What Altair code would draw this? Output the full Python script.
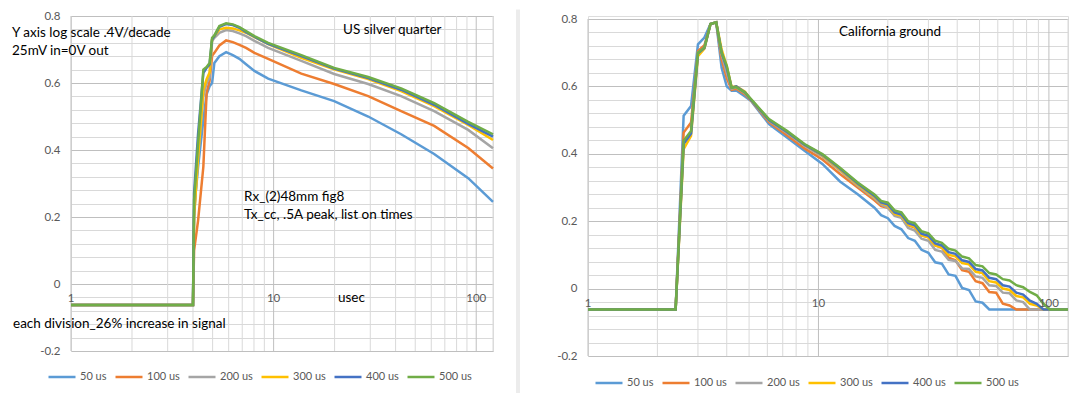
import altair as alt
import pandas as pd

FONT = "Lato"
series_names = ["50 us", "100 us", "200 us", "300 us", "400 us", "500 us"]
series_colors = ["#5B9BD5", "#ED7D31", "#A5A5A5", "#FFC000", "#4472C4", "#70AD47"]

# ---------------- left panel: US silver quarter ----------------
left_t = [1, 4.0, 4.05, 4.24, 4.5, 4.67, 4.83, 4.97, 5.1, 5.4, 5.83, 6.29, 6.78, 7.31,
          8.04, 9.4, 13.7, 19.9, 29.3, 42.6, 62, 91.3, 121]
left_50 = [-0.063, -0.063, 0.22, 0.35, 0.49, 0.566, 0.59, 0.60, 0.66, 0.68, 0.692, 0.683,
           0.672, 0.656, 0.636, 0.613, 0.578, 0.546, 0.50, 0.447, 0.388, 0.316, 0.245]
left_100 = [-0.063, -0.063, 0.10, 0.19, 0.35, 0.571, 0.606, 0.681, 0.69, 0.712, 0.727, 0.722,
            0.714, 0.705, 0.69, 0.672, 0.628, 0.597, 0.561, 0.516, 0.472, 0.406, 0.345]
left_200 = [-0.063, -0.063, 0.20, 0.38, 0.56, 0.60, 0.616, 0.725, 0.735, 0.75, 0.758, 0.755,
            0.748, 0.74, 0.726, 0.705, 0.666, 0.627, 0.597, 0.561, 0.516, 0.46, 0.405]
left_300 = [-0.063, -0.063, 0.20, 0.38, 0.58, 0.611, 0.631, 0.73, 0.74, 0.76, 0.765, 0.763,
            0.757, 0.75, 0.737, 0.716, 0.675, 0.641, 0.612, 0.576, 0.531, 0.475, 0.43]
left_400 = [-0.063, -0.063, 0.27, 0.45, 0.63, 0.645, 0.655, 0.73, 0.74, 0.768, 0.776, 0.773,
            0.765, 0.752, 0.738, 0.717, 0.68, 0.643, 0.615, 0.58, 0.535, 0.478, 0.44]
left_500 = [-0.063, -0.063, 0.25, 0.42, 0.64, 0.648, 0.66, 0.735, 0.742, 0.77, 0.778, 0.775,
            0.767, 0.755, 0.74, 0.72, 0.683, 0.645, 0.618, 0.584, 0.54, 0.484, 0.447]

# ---------------- right panel: California ground ----------------
right_t_head = [1, 2.4, 2.6, 2.8, 3.0, 3.2, 3.4, 3.6, 3.8, 4.0,
                4.2, 4.4, 4.8, 5.1, 6.1, 7.3, 8.7, 10.4, 12.4, 14.8]
right_t_tail = [17.5, 18.7, 20.0, 21.4, 22.9, 24.5, 26.2, 28.0, 30.0, 32.1,
                34.3, 36.7, 39.3, 42.0, 45.0, 48.1, 51.5, 55.1, 59.0, 63.1,
                67.5, 72.2, 77.3, 82.7, 88.5, 94.7, 101, 110, 121]

right_50_head = [-0.062, -0.062, 0.513, 0.542, 0.725, 0.745, 0.785, 0.79, 0.655, 0.60,
                 0.587, 0.588, 0.57, 0.557, 0.488, 0.448, 0.409, 0.37, 0.318, 0.28]
right_50_tail = [0.24, 0.218, 0.209, 0.186, 0.176, 0.15, 0.142, 0.115, 0.106, 0.078,
                 0.074, 0.042, 0.038, 0.002, -0.004, -0.038, -0.042, -0.062, -0.062, -0.062,
                 -0.062, -0.062, -0.062, -0.062, -0.062, -0.062, -0.062, -0.062, -0.062]
right_100_head = [-0.062, -0.062, 0.463, 0.493, 0.705, 0.722, 0.785, 0.79, 0.68, 0.625,
                  0.59, 0.593, 0.576, 0.558, 0.494, 0.455, 0.416, 0.383, 0.34, 0.30]
right_100_tail = [0.262, 0.245, 0.24, 0.218, 0.212, 0.188, 0.181, 0.158, 0.152, 0.128,
                  0.122, 0.092, 0.084, 0.055, 0.05, 0.022, 0.016, -0.01, -0.012, -0.045,
                  -0.05, -0.062, -0.062, -0.062, -0.062, -0.062, -0.062, -0.062, -0.062]
right_200_head = [-0.062, -0.062, 0.43, 0.465, 0.70, 0.715, 0.785, 0.79, 0.695, 0.64,
                  0.593, 0.597, 0.58, 0.56, 0.498, 0.462, 0.424, 0.392, 0.35, 0.305]
right_200_tail = [0.268, 0.25, 0.24, 0.216, 0.21, 0.18, 0.172, 0.148, 0.142, 0.115,
                  0.11, 0.085, 0.082, 0.06, 0.058, 0.036, 0.032, 0.01, 0.008, -0.012,
                  -0.014, -0.035, -0.04, -0.062, -0.062, -0.062, -0.062, -0.062, -0.062]
right_300_head = [-0.062, -0.062, 0.414, 0.453, 0.69, 0.712, 0.785, 0.79, 0.71, 0.66,
                  0.598, 0.60, 0.584, 0.56, 0.50, 0.465, 0.427, 0.395, 0.353, 0.309]
right_300_tail = [0.272, 0.254, 0.246, 0.222, 0.216, 0.19, 0.183, 0.158, 0.152, 0.128,
                  0.122, 0.10, 0.096, 0.076, 0.072, 0.05, 0.046, 0.022, 0.018, 0.0,
                  -0.004, -0.022, -0.026, -0.045, -0.05, -0.062, -0.062, -0.062, -0.062]
right_400_head = [-0.062, -0.062, 0.43, 0.46, 0.698, 0.714, 0.785, 0.79, 0.70, 0.655,
                  0.596, 0.60, 0.582, 0.56, 0.50, 0.465, 0.427, 0.397, 0.356, 0.312]
right_400_tail = [0.275, 0.256, 0.25, 0.226, 0.22, 0.194, 0.188, 0.163, 0.157, 0.134,
                  0.128, 0.108, 0.103, 0.084, 0.079, 0.058, 0.054, 0.032, 0.028, 0.01,
                  0.006, -0.012, -0.018, -0.036, -0.045, -0.062, -0.062, -0.062, -0.062]
right_500_head = [-0.062, -0.062, 0.439, 0.468, 0.70, 0.715, 0.785, 0.79, 0.70, 0.661,
                  0.596, 0.598, 0.582, 0.562, 0.503, 0.468, 0.429, 0.399, 0.359, 0.315]
right_500_tail = [0.279, 0.26, 0.255, 0.232, 0.226, 0.20, 0.194, 0.17, 0.164, 0.142,
                  0.136, 0.118, 0.113, 0.095, 0.09, 0.07, 0.066, 0.046, 0.042, 0.028,
                  0.024, 0.01, 0.004, -0.01, -0.02, -0.045, -0.062, -0.062, -0.062]

x_tick_values = [1, 10, 100]
x_tick_labels = ["1", "10", "100"]
x_major = [1, 10, 100]
x_minor = [2, 3, 4, 5, 6, 7, 8, 9, 20, 30, 40, 50, 60, 70, 80, 90]
x_edge = [121]
y_grid = [round(-0.2 + 0.04 * i, 2) for i in range(26)]


def long_df(t, lists):
    rows = []
    for name, vals in zip(series_names, lists):
        for tt, vv in zip(t, vals):
            rows.append({"t": tt, "v": vv, "series": name})
    return pd.DataFrame(rows)


left_df = long_df(left_t, [left_50, left_100, left_200, left_300, left_400, left_500])
right_df = long_df(right_t_head + right_t_tail, [
    right_50_head + right_50_tail, right_100_head + right_100_tail,
    right_200_head + right_200_tail, right_300_head + right_300_tail,
    right_400_head + right_400_tail, right_500_head + right_500_tail])

MAJOR = "#BFBFBF"
MINOR = "#D9D9D9"
dummy = pd.DataFrame({"a": [0]})


def annotation(text, x, y, size=13.5):
    return alt.Chart(dummy).mark_text(
        text=text, align="left", baseline="middle", font=FONT, fontSize=size, color="#000000"
    ).encode(x=alt.value(x), y=alt.value(y))


def panel(df, width, height, yrange, legend_x, legend_y, notes, extra):
    xscale = alt.Scale(type="log", domain=[1, 121], nice=False)
    yscale = alt.Scale(domain=[-0.2, 0.8], nice=False, zero=False, range=yrange)
    yaxis = alt.Axis(values=y_grid, ticks=False, tickSize=0, domain=False, title=None,
                     labelExpr="abs(datum.value*5 - round(datum.value*5)) < 0.001 ? '' + round(datum.value*10)/10 : ''",
                     labelPadding=11, labelFont=FONT, labelFontSize=11.5, labelColor="#595959",
                     gridColor={"condition": {"test": "abs(datum.value*5 - round(datum.value*5)) < 0.001",
                                              "value": MAJOR}, "value": MINOR},
                     gridWidth=1)

    def vrules(vals, color):
        d = pd.DataFrame({"t": vals, "lo": [-0.2] * len(vals), "hi": [0.8] * len(vals)})
        return alt.Chart(d).mark_rule(color=color, strokeWidth=1).encode(
            x=alt.X("t:Q", scale=xscale, axis=None),
            y=alt.Y("lo:Q", scale=yscale, axis=yaxis),
            y2="hi:Q",
        )

    lines = alt.Chart(df).mark_line(strokeWidth=2.5).encode(
        x=alt.X("t:Q", scale=xscale, axis=None),
        y=alt.Y("v:Q", scale=yscale, axis=yaxis),
        color=alt.Color("series:N",
                        scale=alt.Scale(domain=series_names, range=series_colors),
                        legend=alt.Legend(orient="none", legendX=legend_x, legendY=legend_y,
                                          direction="horizontal", columns=6, title=None,
                                          gridAlign="none",
                                          symbolType="stroke", symbolSize=729, symbolStrokeWidth=2.5,
                                          labelFont=FONT, labelFontSize=11, labelColor="#595959",
                                          labelOffset=3, columnPadding=3, padding=0)),
    )
    ticks_df = pd.DataFrame({"t": x_tick_values, "lab": x_tick_labels, "z": [0] * len(x_tick_values)})
    xlabels = alt.Chart(ticks_df).mark_text(
        dy=15, baseline="middle", font=FONT, fontSize=11.5, color="#595959"
    ).encode(
        x=alt.X("t:Q", scale=xscale, axis=None),
        y=alt.Y("z:Q", scale=yscale, axis=yaxis),
        text="lab:N",
    )
    layers = [vrules(x_minor, MINOR), vrules(x_edge, MINOR), vrules(x_major, MAJOR), lines, xlabels] \
        + [annotation(*n) for n in notes] + extra
    return alt.layer(*layers).properties(width=width, height=height)


left_notes = [
    ("Y axis log scale .4V/decade", -59, 17),
    ("25mV in=0V out", -59, 35),
    ("US silver quarter", 272, 14),
    ("Rx_(2)48mm fig8", 173, 181),
    ("Tx_cc, .5A peak, list on times", 173, 199),
    ("usec", 267, 282),
    ("each division_26% increase in signal", -58, 308),
]
right_notes = [
    ("California ground", 251, 16),
]

left_extra = [
    alt.Chart(dummy).mark_rule(opacity=0).encode(x=alt.value(0), x2=alt.value(10), y=alt.value(-6.5)),
]
right_extra = [
    alt.Chart(dummy).mark_rule(color=MINOR, strokeWidth=1).encode(x=alt.value(-71), y=alt.value(-6.5), y2=alt.value(377)),
    alt.Chart(dummy).mark_rule(color=MINOR, strokeWidth=1).encode(x=alt.value(-69), y=alt.value(-6.5), y2=alt.value(377)),
]

left = panel(left_df, 422, 335, [335, 0], -24, 346, left_notes, left_extra)
right = panel(right_df, 480, 340, [340, 3], 6, 352, right_notes, right_extra)

chart = alt.hconcat(left, right, spacing=17).resolve_scale(color="independent").properties(
    padding={"left": 3, "top": 0, "right": 0, "bottom": 0}
).configure_view(strokeWidth=0).configure(background="white")

chart.save("out.html", embed_options={"renderer": "svg", "actions": False})
